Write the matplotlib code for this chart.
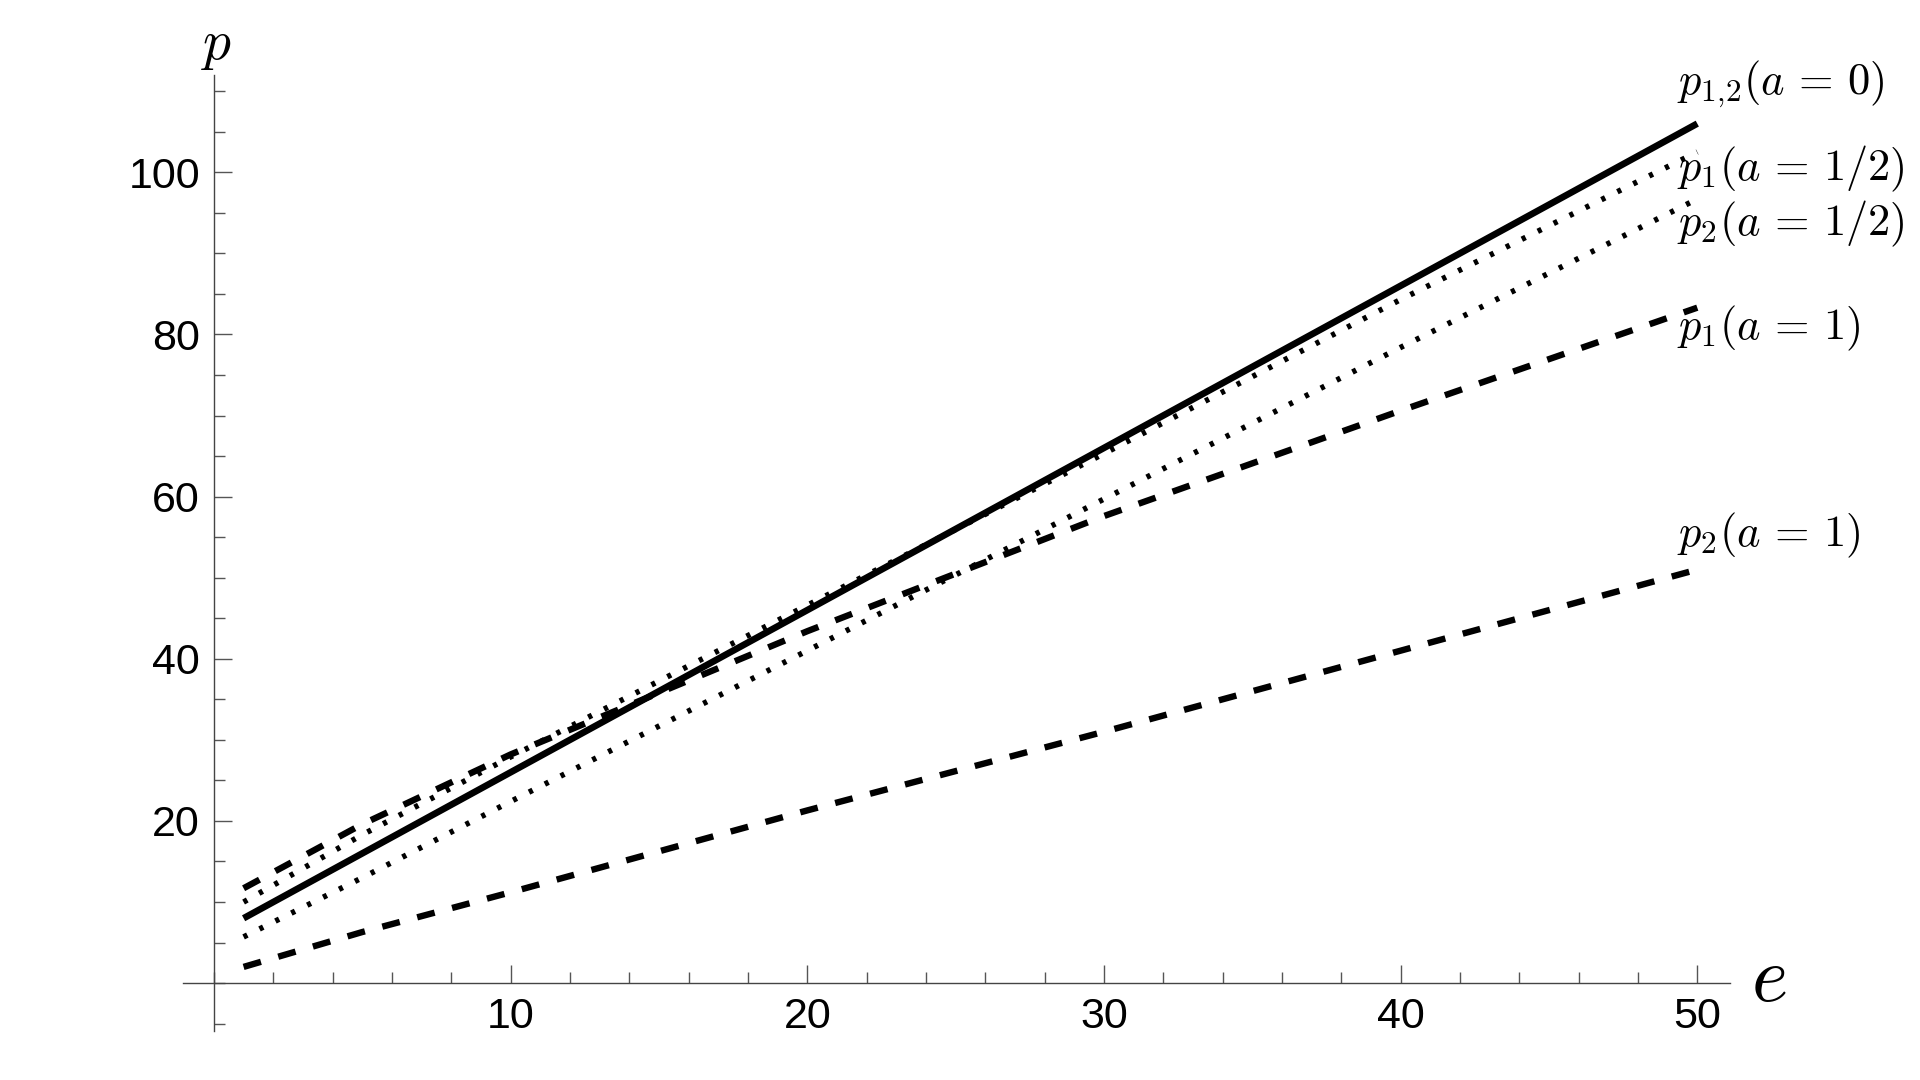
import numpy as np
import matplotlib
matplotlib.use("Agg")
import matplotlib.pyplot as plt
import matplotlib.ticker as ticker

# values
e = [1, 5, 10, 20, 30, 40, 50]
p12_a0 = [8.0, 16.0, 26.0, 46.0, 66.0, 86.0, 106.0]
p1_a_half = [10.0, 18.3, 27.9, 46.6, 65.3, 84.3, 102.5]
p2_a_half = [5.7, 13.0, 22.4, 41.0, 59.7, 78.4, 96.7]
p1_a1 = [11.7, 19.6, 28.2, 43.4, 57.6, 70.6, 83.3]
p2_a1 = [2.0, 6.3, 11.2, 21.3, 31.0, 41.0, 51.0]

labels = [r"$p_{1{,}2}(a\,=\,0)$", r"$p_1(a\,=\,1/2)$", r"$p_2(a\,=\,1/2)$",
          r"$p_1(a\,=\,1)$", r"$p_2(a\,=\,1)$"]
x_ticks = [10, 20, 30, 40, 50]
y_ticks = [20, 40, 60, 80, 100]

plt.rcParams["mathtext.fontset"] = "cm"
plt.rcParams["lines.scale_dashes"] = False

fig = plt.figure(figsize=(19.2, 10.8), dpi=100)
ax = fig.add_axes([0.0952, 0.0454, 0.9010 - 0.0952, 0.9306 - 0.0454])
ax.set_xlim(-1.05, 51.1)
ax.set_ylim(-5.9, 112)

dash = (0, (13, 13))
dot = (0, (3, 9.8))
ax.plot(e, p12_a0, color="black", lw=4.8, solid_capstyle="butt")
ax.plot(e, p1_a_half, color="black", lw=4.0, linestyle=dot, dash_capstyle="butt")
ax.plot(e, p2_a_half, color="black", lw=4.0, linestyle=dot, dash_capstyle="butt")
ax.plot(e, p1_a1, color="black", lw=4.6, linestyle=dash, dash_capstyle="butt")
ax.plot(e, p2_a1, color="black", lw=4.6, linestyle=dash, dash_capstyle="butt")

# curve labels
label_y = [110.9, 100.4, 93.6, 80.7, 55.2]
for txt, yy in zip(labels, label_y):
    ax.text(49.3, yy, txt, fontsize=32, ha="left", va="center", clip_on=False)

# axes through the origin
for s in ["top", "right"]:
    ax.spines[s].set_visible(False)
ax.spines["left"].set_position(("data", 0))
ax.spines["bottom"].set_position(("data", 0))
for s in ["left", "bottom"]:
    ax.spines[s].set_color("#444444")
    ax.spines[s].set_linewidth(1.0)

ax.xaxis.set_major_locator(ticker.FixedLocator(x_ticks))
ax.xaxis.set_minor_locator(ticker.MultipleLocator(2))
ax.yaxis.set_major_locator(ticker.FixedLocator(y_ticks))
ax.yaxis.set_minor_locator(ticker.MultipleLocator(5))
ax.tick_params(which="both", direction="in", color="#555555", width=1.0)
ax.tick_params(which="major", length=13, labelsize=31, pad=10)
ax.tick_params(which="minor", length=7.7)
for lab in ax.get_xticklabels() + ax.get_yticklabels():
    lab.set_family("Liberation Sans")

# axis labels in Mathematica style
ax.text(0.08, 115.7, r"$p$", fontsize=40, ha="center", va="center", clip_on=False)
ax.text(52.4, 0.5, r"$e$", fontsize=56, ha="center", va="center", clip_on=False)

fig.savefig("out.png", dpi=100)
